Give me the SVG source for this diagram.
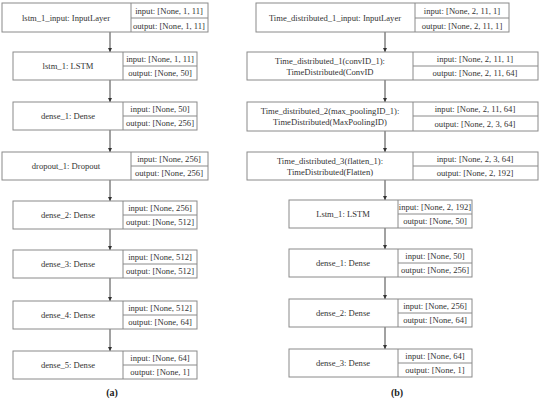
<svg xmlns="http://www.w3.org/2000/svg" width="550" height="402" viewBox="0 0 550 402">
<style>
.b{fill:#fff;stroke:#8a8a8a;stroke-width:1}
.t{font-family:"Liberation Serif","Times New Roman",serif;font-size:8.6px;fill:#333;text-anchor:middle}
.c{stroke:#444;stroke-width:1;fill:none}
.cap{font-family:"Liberation Serif","Times New Roman",serif;font-size:10px;font-weight:bold;fill:#222;text-anchor:middle}
</style>
<defs>
<marker id="ah" viewBox="0 0 6 6" refX="6" refY="3" markerWidth="4" markerHeight="4" orient="auto" markerUnits="userSpaceOnUse">
<path d="M0,0 L6,3 L0,6 Z" fill="#333"/>
</marker>
</defs>
<rect width="550" height="402" fill="#fff"/>
<g id="connectors">
<line class="c" x1="110" y1="32" x2="110" y2="52" marker-end="url(#ah)"/>
<line class="c" x1="110" y1="80" x2="110" y2="102" marker-end="url(#ah)"/>
<line class="c" x1="110" y1="130" x2="110" y2="152" marker-end="url(#ah)"/>
<line class="c" x1="110" y1="180" x2="110" y2="201" marker-end="url(#ah)"/>
<line class="c" x1="110" y1="229" x2="110" y2="250" marker-end="url(#ah)"/>
<line class="c" x1="110" y1="278" x2="110" y2="301" marker-end="url(#ah)"/>
<line class="c" x1="110" y1="329" x2="110" y2="351" marker-end="url(#ah)"/>
<line class="c" x1="385" y1="32" x2="385" y2="52" marker-end="url(#ah)"/>
<line class="c" x1="385" y1="80" x2="385" y2="102" marker-end="url(#ah)"/>
<line class="c" x1="385" y1="131" x2="385" y2="152" marker-end="url(#ah)"/>
<line class="c" x1="385" y1="180" x2="385" y2="200" marker-end="url(#ah)"/>
<line class="c" x1="385" y1="228" x2="385" y2="249" marker-end="url(#ah)"/>
<line class="c" x1="385" y1="277" x2="385" y2="299" marker-end="url(#ah)"/>
<line class="c" x1="385" y1="327" x2="385" y2="349" marker-end="url(#ah)"/>
</g>
<g id="a_lstm_1_input">
<rect class="b" x="2" y="3" width="206" height="29"/>
<line class="b" x1="131" y1="3" x2="131" y2="32"/><line class="b" x1="131" y1="18" x2="208" y2="18"/>
<text class="t" x="66" y="21">lstm_1_input: InputLayer</text>
<text class="t" x="169" y="14">input: [None, 1, 11]</text>
<text class="t" x="169" y="29">output: [None, 1, 11]</text>
</g>
<g id="a_lstm_1">
<rect class="b" x="13" y="52" width="184" height="28"/>
<line class="b" x1="123" y1="52" x2="123" y2="80"/><line class="b" x1="123" y1="66" x2="197" y2="66"/>
<text class="t" x="68" y="69">lstm_1: LSTM</text>
<text class="t" x="160" y="62">input: [None, 1, 11]</text>
<text class="t" x="160" y="76">output: [None, 50]</text>
</g>
<g id="a_dense_1">
<rect class="b" x="13" y="102" width="184" height="28"/>
<line class="b" x1="123" y1="102" x2="123" y2="130"/><line class="b" x1="123" y1="116" x2="197" y2="116"/>
<text class="t" x="68" y="119">dense_1: Dense</text>
<text class="t" x="160" y="112">input: [None, 50]</text>
<text class="t" x="160" y="126">output: [None, 256]</text>
</g>
<g id="a_dropout_1">
<rect class="b" x="2" y="152" width="206" height="28"/>
<line class="b" x1="131" y1="152" x2="131" y2="180"/><line class="b" x1="131" y1="166" x2="208" y2="166"/>
<text class="t" x="66" y="169">dropout_1: Dropout</text>
<text class="t" x="169" y="162">input: [None, 256]</text>
<text class="t" x="169" y="176">output: [None, 256]</text>
</g>
<g id="a_dense_2">
<rect class="b" x="13" y="201" width="184" height="28"/>
<line class="b" x1="123" y1="201" x2="123" y2="229"/><line class="b" x1="123" y1="215" x2="197" y2="215"/>
<text class="t" x="68" y="218">dense_2: Dense</text>
<text class="t" x="160" y="211">input: [None, 256]</text>
<text class="t" x="160" y="225">output: [None, 512]</text>
</g>
<g id="a_dense_3">
<rect class="b" x="13" y="250" width="184" height="28"/>
<line class="b" x1="123" y1="250" x2="123" y2="278"/><line class="b" x1="123" y1="264" x2="197" y2="264"/>
<text class="t" x="68" y="267">dense_3: Dense</text>
<text class="t" x="160" y="260">input: [None, 512]</text>
<text class="t" x="160" y="274">output: [None, 512]</text>
</g>
<g id="a_dense_4">
<rect class="b" x="13" y="301" width="184" height="28"/>
<line class="b" x1="123" y1="301" x2="123" y2="329"/><line class="b" x1="123" y1="315" x2="197" y2="315"/>
<text class="t" x="68" y="318">dense_4: Dense</text>
<text class="t" x="160" y="311">input: [None, 512]</text>
<text class="t" x="160" y="325">output: [None, 64]</text>
</g>
<g id="a_dense_5">
<rect class="b" x="13" y="351" width="184" height="28"/>
<line class="b" x1="123" y1="351" x2="123" y2="379"/><line class="b" x1="123" y1="365" x2="197" y2="365"/>
<text class="t" x="68" y="368">dense_5: Dense</text>
<text class="t" x="160" y="361">input: [None, 64]</text>
<text class="t" x="160" y="375">output: [None, 1]</text>
</g>
<text class="cap" x="112" y="396">(a)</text>

<g id="b_td1_input">
<rect class="b" x="256" y="3" width="253" height="29"/>
<line class="b" x1="415" y1="3" x2="415" y2="32"/><line class="b" x1="415" y1="18" x2="509" y2="18"/>
<text class="t" x="335" y="21">Time_distributed_1_input: InputLayer</text>
<text class="t" x="462" y="14">input: [None, 2, 11, 1]</text>
<text class="t" x="462" y="29">output: [None, 2, 11, 1]</text>
</g>
<g id="b_td1">
<rect class="b" x="247" y="52" width="291" height="28"/>
<line class="b" x1="413" y1="52" x2="413" y2="80"/><line class="b" x1="413" y1="66" x2="538" y2="66"/>
<text class="t" x="330" y="64">Time_distributed_1(convID_1):</text>
<text class="t" x="330" y="75">TimeDistributed(ConvID</text>
<text class="t" x="475" y="62">input: [None, 2, 11, 1]</text>
<text class="t" x="475" y="76">output: [None, 2, 11, 64]</text>
</g>
<g id="b_td2">
<rect class="b" x="247" y="102" width="291" height="29"/>
<line class="b" x1="413" y1="102" x2="413" y2="131"/><line class="b" x1="413" y1="116" x2="538" y2="116"/>
<text class="t" x="330" y="114">Time_distributed_2(max_poolingID_1):</text>
<text class="t" x="330" y="125">TimeDistributed(MaxPoolingID)</text>
<text class="t" x="475" y="112">input: [None, 2, 11, 64]</text>
<text class="t" x="475" y="127">output: [None, 2, 3, 64]</text>
</g>
<g id="b_td3">
<rect class="b" x="247" y="152" width="291" height="28"/>
<line class="b" x1="413" y1="152" x2="413" y2="180"/><line class="b" x1="413" y1="166" x2="538" y2="166"/>
<text class="t" x="330" y="164">Time_distributed_3(flatten_1):</text>
<text class="t" x="330" y="175">TimeDistributed(Flatten)</text>
<text class="t" x="475" y="162">input: [None, 2, 3, 64]</text>
<text class="t" x="475" y="176">output: [None, 2, 192]</text>
</g>
<g id="b_lstm_1">
<rect class="b" x="289" y="200" width="183" height="28"/>
<line class="b" x1="398" y1="200" x2="398" y2="228"/><line class="b" x1="398" y1="214" x2="472" y2="214"/>
<text class="t" x="343" y="217">Lstm_1: LSTM</text>
<text class="t" x="435" y="210">input: [None, 2, 192]</text>
<text class="t" x="435" y="224">output: [None, 50]</text>
</g>
<g id="b_dense_1">
<rect class="b" x="289" y="249" width="183" height="28"/>
<line class="b" x1="398" y1="249" x2="398" y2="277"/><line class="b" x1="398" y1="263" x2="472" y2="263"/>
<text class="t" x="343" y="266">dense_1: Dense</text>
<text class="t" x="435" y="259">input: [None, 50]</text>
<text class="t" x="435" y="273">output: [None, 256]</text>
</g>
<g id="b_dense_2">
<rect class="b" x="289" y="299" width="183" height="28"/>
<line class="b" x1="398" y1="299" x2="398" y2="327"/><line class="b" x1="398" y1="313" x2="472" y2="313"/>
<text class="t" x="343" y="316">dense_2: Dense</text>
<text class="t" x="435" y="309">input: [None, 256]</text>
<text class="t" x="435" y="323">output: [None, 64]</text>
</g>
<g id="b_dense_3">
<rect class="b" x="289" y="349" width="183" height="28"/>
<line class="b" x1="398" y1="349" x2="398" y2="377"/><line class="b" x1="398" y1="363" x2="472" y2="363"/>
<text class="t" x="343" y="366">dense_3: Dense</text>
<text class="t" x="435" y="359">input: [None, 64]</text>
<text class="t" x="435" y="373">output: [None, 1]</text>
</g>
<text class="cap" x="397" y="396">(b)</text>
</svg>
